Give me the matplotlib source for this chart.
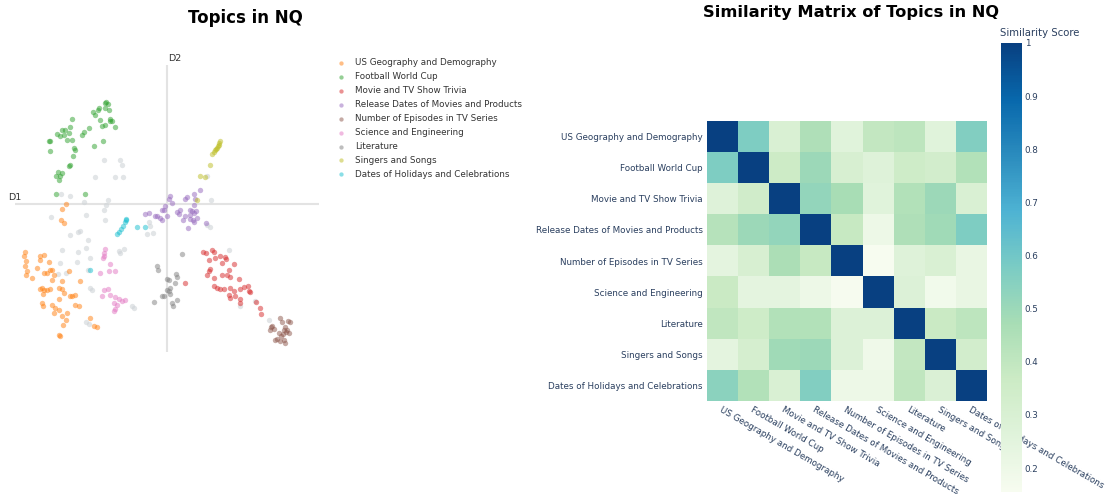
import numpy as np
import matplotlib
matplotlib.use('Agg')
import matplotlib.pyplot as plt
from matplotlib.ticker import FuncFormatter

W, H = 1108, 494
TEXT_BLUE = '#2a3f5f'
FS = 6.3

topics = [
    'US Geography and Demography',
    'Football World Cup',
    'Movie and TV Show Trivia',
    'Release Dates of Movies and Products',
    'Number of Episodes in TV Series',
    'Science and Engineering',
    'Literature',
    'Singers and Songs',
    'Dates of Holidays and Celebrations',
]
topic_colors = ['tab:orange', 'tab:green', 'tab:red', 'tab:purple', 'tab:brown',
                'tab:pink', 'tab:gray', 'tab:olive', 'tab:cyan']

# 2-D projection of questions (D1, D2)
us_geo = [(-10.1, 0.0), (-10.5, -0.5), (-10.6, -1.6), (-10.3, -1.9), (-14.2, -4.8), (-14.3, -5.2),
          (-14.1, -5.7), (-14.2, -6.2), (-14.0, -6.7), (-14.1, -7.1), (-13.5, -7.4), (-12.7, -5.2),
          (-12.3, -5.1), (-12.7, -5.6), (-11.8, -5.8), (-11.7, -6.6), (-11.5, -6.6), (-12.0, -6.9),
          (-12.3, -6.9), (-13.0, -6.4), (-11.3, -7.1), (-11.5, -7.6), (-12.5, -8.4), (-12.7, -8.5),
          (-12.3, -8.6), (-12.0, -8.6), (-12.4, -9.0), (-11.7, -8.5), (-10.8, -8.4), (-10.5, -7.7),
          (-9.8, -6.7), (-8.7, -7.7), (-10.5, -8.5), (-10.3, -8.9), (-9.5, -9.2), (-9.2, -9.1),
          (-9.7, -9.2), (-10.8, -9.5), (-12.5, -9.9), (-12.4, -10.2), (-11.5, -10.1), (-11.2, -10.4),
          (-11.3, -10.9), (-10.8, -10.6), (-10.5, -11.2), (-10.0, -10.9), (-9.2, -10.1), (-8.8, -10.2),
          (-10.4, -12.1), (-10.1, -11.6), (-7.7, -11.4), (-7.3, -12.2), (-7.0, -12.3), (-10.8, -13.1),
          (-10.7, -13.2)]
football = [(-6.1, 10.2), (-6.2, 10.1), (-5.9, 10.0), (-6.8, 9.6), (-6.9, 9.4), (-6.2, 9.6), (-5.8, 9.4),
            (-7.4, 9.2), (-7.2, 8.9), (-5.7, 8.5), (-5.5, 8.3), (-5.7, 8.3), (-9.5, 8.5), (-6.7, 8.4),
            (-6.5, 7.8), (-6.2, 7.9), (-5.2, 7.7), (-9.7, 7.7), (-10.2, 7.4), (-10.5, 7.4), (-10.3, 6.9),
            (-11.0, 7.0), (-10.7, 6.8), (-9.8, 7.1), (-8.3, 7.2), (-7.8, 7.6), (-8.5, 6.9), (-11.7, 6.3),
            (-11.8, 6.3), (-10.0, 6.4), (-9.5, 6.4), (-6.4, 6.3), (-7.3, 5.8), (-9.3, 5.6), (-9.2, 5.4),
            (-9.4, 4.8), (-11.7, 5.3), (-9.7, 3.9), (-9.8, 3.8), (-10.9, 3.2), (-10.5, 3.1), (-11.1, 2.8),
            (-10.8, 2.4), (-10.7, 2.8), (-11.1, 1.0), (-8.2, 1.0)]
movie_tv = [(3.6, -4.8), (3.9, -4.9), (4.5, -4.6), (4.7, -4.8), (4.2, -5.6), (4.8, -5.4), (5.3, -5.2),
            (5.8, -5.3), (5.9, -5.5), (5.5, -5.9), (4.3, -6.5), (4.2, -6.7), (4.0, -7.1), (4.7, -7.4),
            (5.5, -7.1), (6.0, -7.1), (6.7, -6.0), (6.2, -6.6), (6.3, -7.3), (5.0, -8.4), (5.3, -8.5),
            (4.7, -8.2), (5.7, -8.5), (6.3, -8.4), (6.7, -8.7), (7.2, -7.5), (7.7, -8.3), (8.1, -8.2),
            (7.3, -8.5), (8.3, -8.8), (6.2, -9.1), (6.8, -9.2), (6.3, -9.4), (7.3, -9.5), (7.3, -9.9),
            (8.2, -8.7), (8.9, -9.8), (9.3, -10.4), (9.4, -11.0), (1.8, -7.9)]
release = [(0.3, 0.8), (0.2, 0.5), (0.5, 0.1), (-0.2, -0.2), (-0.3, -0.6), (-0.5, -0.6), (-1.0, -1.2),
           (-0.7, -1.4), (-0.5, -1.6), (-1.2, -1.2), (-1.8, -0.9), (-2.2, -1.0), (0.0, -1.2), (1.0, -0.8),
           (1.3, -0.6), (1.2, -1.0), (1.8, 0.5), (2.0, 0.7), (2.7, 1.0), (2.8, 0.5), (2.7, -0.1),
           (2.3, -0.6), (2.5, -0.7), (2.7, -0.9), (2.3, -1.1), (1.8, -1.2), (1.6, -1.6), (2.3, -1.5),
           (2.6, -1.6), (3.0, -1.4), (2.9, -0.7), (3.3, 1.4), (2.1, -2.4), (2.7, -1.8), (3.9, -1.9)]
episodes = [(10.5, -12.2), (10.4, -12.3), (10.7, -12.5), (11.3, -11.4), (11.5, -11.8), (12.1, -11.7),
            (12.3, -11.8), (11.8, -12.3), (11.7, -12.6), (11.9, -12.8), (12.2, -12.9), (11.2, -12.9),
            (11.0, -13.5), (11.3, -13.7), (11.7, -13.6), (11.8, -13.9), (11.4, -13.2), (11.6, -13.0),
            (10.8, -13.6), (12.0, -12.6), (10.3, -12.6)]
science = [(-6.2, -4.5), (-6.3, -4.9), (-6.3, -5.2), (-6.4, -5.4), (-5.7, -6.0), (-6.7, -6.9),
           (-5.8, -6.7), (-5.2, -6.7), (-6.3, -8.6), (-5.9, -8.5), (-5.7, -9.1), (-6.5, -9.2),
           (-5.2, -9.3), (-4.8, -9.5), (-5.3, -9.9), (-5.0, -10.1), (-5.2, -10.5), (-5.3, -10.7),
           (-4.5, -9.7), (-4.2, -9.6)]
literature = [(1.5, -5.0), (-1.0, -6.2), (-0.9, -6.6), (0.0, -7.5), (0.2, -7.6), (0.9, -7.0), (1.0, -7.3),
              (0.8, -7.9), (0.0, -8.6), (0.2, -8.7), (0.3, -9.0), (-0.5, -9.2), (-0.3, -9.2), (0.5, -9.9),
              (0.6, -10.2), (-1.3, -9.8), (1.0, -9.6), (0.3, -8.4)]
singers = [(5.3, 6.3), (5.2, 6.1), (5.2, 5.9), (5.1, 5.8), (5.0, 5.6), (4.9, 5.5), (4.8, 5.4), (4.7, 5.2),
           (4.5, 5.0), (4.3, 3.9), (3.3, 2.8), (3.8, 2.7), (3.0, 0.4)]
holidays = [(-4.1, -1.5), (-4.1, -1.6), (-4.2, -1.8), (-4.4, -2.2), (-4.6, -2.5), (-4.8, -2.8),
            (-5.0, -3.0), (-3.0, -2.3), (-2.2, -2.3), (-7.7, -6.6)]
# questions not assigned to any of the topics above
unassigned = [(-6.3, 4.4), (-4.7, 4.4), (-4.5, 3.9), (-7.2, 2.7), (-5.2, 2.7), (-4.4, 2.7), (-10.6, 1.0),
              (-9.7, 0.8), (-8.3, 0.2), (-5.9, 0.4), (-6.1, -0.1), (-8.1, -1.1), (-6.3, -0.6), (-6.2, -1.6),
              (-11.6, -1.3), (-9.7, -3.1), (-8.9, -2.8), (-8.7, -2.7), (-7.9, -3.6), (-8.1, -4.4),
              (-10.5, -4.6), (-8.9, -4.8), (-7.7, -5.4), (-10.7, -5.9), (-10.1, -6.9), (-10.9, -7.0),
              (-9.0, -5.8), (-7.9, -6.6), (-7.7, -8.4), (-7.5, -8.6), (-4.8, -4.7), (-4.3, -4.5),
              (-4.7, -4.9), (-3.5, -10.2), (-3.3, -10.4), (-8.1, -11.8), (-7.8, -12.0), (-1.8, -1.8),
              (-1.7, -2.2), (-2.0, -3.0), (-1.4, -2.9), (4.0, -2.1), (4.3, -2.3), (4.4, 0.4), (4.0, 2.8),
              (6.2, -4.6), (7.3, -10.2), (10.2, -11.6), (8.8, -9.7)]

topic_points = [us_geo, football, movie_tv, release, episodes, science, literature, singers, holidays]

similarity = [
    [1.00, 0.57, 0.30, 0.45, 0.26, 0.39, 0.41, 0.26, 0.56],
    [0.57, 1.00, 0.36, 0.50, 0.31, 0.27, 0.35, 0.33, 0.44],
    [0.27, 0.34, 1.00, 0.52, 0.47, 0.26, 0.44, 0.50, 0.30],
    [0.43, 0.50, 0.52, 1.00, 0.38, 0.20, 0.45, 0.49, 0.57],
    [0.24, 0.31, 0.46, 0.38, 1.00, 0.155, 0.27, 0.30, 0.22],
    [0.37, 0.24, 0.24, 0.20, 0.16, 1.00, 0.28, 0.18, 0.22],
    [0.40, 0.35, 0.44, 0.44, 0.28, 0.28, 1.00, 0.37, 0.41],
    [0.24, 0.32, 0.49, 0.50, 0.28, 0.19, 0.39, 1.00, 0.33],
    [0.54, 0.44, 0.30, 0.56, 0.20, 0.20, 0.40, 0.29, 1.00],
]


def box(x0, y0, x1, y1):
    """Pixel box (top-left origin) -> figure fraction rect."""
    return [x0 / W, 1 - y1 / H, (x1 - x0) / W, (y1 - y0) / H]


fig = plt.figure(figsize=(W / 100, H / 100), dpi=100)

# ---- left: scatter of topics ----
ax = fig.add_axes(box(15, 65, 319, 352))
ax.set_xlim(-15.2, 15.2)
ax.set_ylim(-14.8, 13.9)
ax.axhline(0, color='#e3e3e3', lw=1.5, zorder=0)
ax.axvline(0, color='#e3e3e3', lw=1.5, zorder=0)
for s in ax.spines.values():
    s.set_visible(False)
ax.set_xticks([])
ax.set_yticks([])

ux, uy = zip(*unassigned)
ax.scatter(ux, uy, s=15, color='#cfd4d8', alpha=0.6, linewidths=0, label='_nolegend_')
handles = []
for name, pts, col in zip(topics, topic_points, topic_colors):
    px, py = zip(*pts)
    h = ax.scatter(px, py, s=15, color=col, alpha=0.5, linewidths=0, label=name)
    handles.append(h)

ax.text(-15.9, 0.7, 'D1', fontsize=6.8, color='#333333', va='center', ha='left', clip_on=False)
ax.text(0.1, 14.6, 'D2', fontsize=6.8, color='#333333', va='center', ha='left', clip_on=False)

fig.text(245 / W, 1 - 18 / H, 'Topics in NQ', ha='center', va='center',
         fontsize=12, fontweight='bold')
fig.legend(handles=handles, labels=topics, loc='upper left',
           bbox_to_anchor=(329 / W, 1 - 50 / H), frameon=False, fontsize=FS,
           labelspacing=0.57, handletextpad=1.1, handlelength=1.0,
           markerscale=0.8, labelcolor='#333333')

# ---- right: similarity heatmap ----
hx = fig.add_axes(box(707, 121, 987, 401))
sim = np.array(similarity)
im = hx.imshow(sim, cmap='GnBu', vmin=sim.min(), vmax=1, aspect='auto',
               interpolation='nearest')
hx.set_xticks(range(len(topics)))
hx.set_yticks(range(len(topics)))
hx.set_xticklabels(topics, rotation=-30, ha='left', va='top', rotation_mode='anchor',
                   fontsize=FS, color=TEXT_BLUE)
hx.set_yticklabels(topics, fontsize=FS, color=TEXT_BLUE)
hx.tick_params(length=0, pad=3)
for s in hx.spines.values():
    s.set_visible(False)

fig.text(851 / W, 1 - 12 / H, 'Similarity Matrix of Topics in NQ', ha='center', va='center',
         fontsize=11.7, fontweight='bold')

cax = fig.add_axes(box(1001, 43, 1022, 492))
cb = fig.colorbar(im, cax=cax)
cb.outline.set_visible(False)
cb.set_ticks([0.2, 0.3, 0.4, 0.5, 0.6, 0.7, 0.8, 0.9, 1.0])
cb.ax.yaxis.set_major_formatter(FuncFormatter(lambda v, p: f'{v:g}'))
cb.ax.tick_params(length=0, labelsize=FS, labelcolor=TEXT_BLUE, pad=2)
fig.text(1000 / W, 1 - 33 / H, 'Similarity Score', ha='left', va='center',
         fontsize=7.3, color=TEXT_BLUE)

fig.savefig('out.png', dpi=100)
